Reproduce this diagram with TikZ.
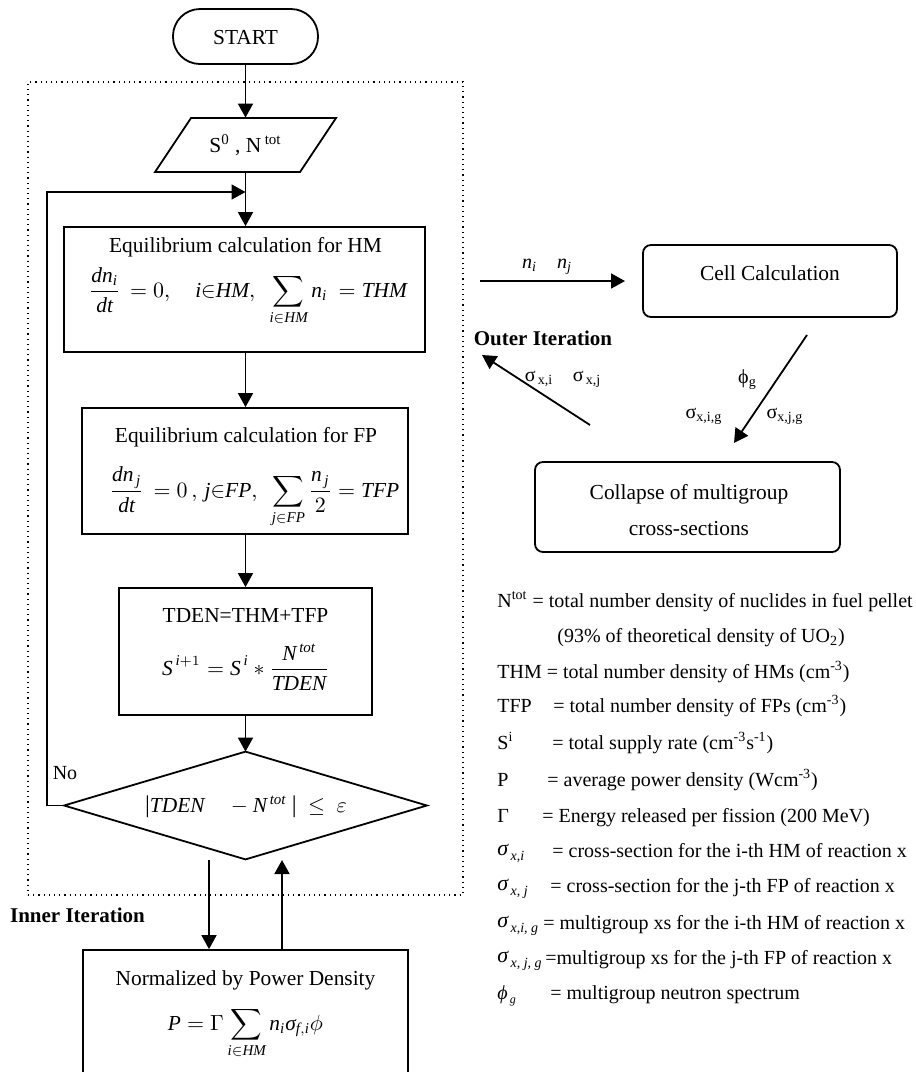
\documentclass[tikz,border=0pt]{standalone}
\usepackage{amsmath}
\usepackage{fontspec}
\setmainfont{Liberation Serif}
\usetikzlibrary{arrows.meta}
\newcommand\vi[1]{\mathit{#1}}
\newcommand\gsig{\text{\itshape σ}}
\newcommand\absbar{\mbox{\fontsize{12}{12}\selectfont |}}
\begin{document}
\begin{tikzpicture}[x=0.5pt,y=-0.5pt,
  box/.style={draw, inner sep=0pt, line width=0.9pt},
  arr/.style={-{Triangle[length=7pt,width=7.5pt]}, line width=0.9pt},
  lbl/.style={font=\fontsize{10.7}{13}\selectfont, inner sep=0pt, anchor=base},
  leg/.style={font=\fontsize{10}{12}\selectfont, inner sep=0pt, anchor=base west},
  sm/.style={font=\fontsize{10}{12}\selectfont, inner sep=0pt, anchor=base},
  bold/.style={font=\fontsize{10.5}{12}\selectfont\bfseries, inner sep=0pt, anchor=base},
]
\useasboundingbox (0,0) rectangle (916,1072);
\clip (0,0) rectangle (916,1072);

% outer dotted frame
\node[draw, dotted, line width=0.6pt, inner sep=0pt, minimum width=217.5pt, minimum height=406.5pt] (frame) at (245.5,488.5) {};

% start
\node[box, rounded corners=13.5pt, minimum width=72.5pt, minimum height=27.5pt] (start) at (245.5,36.5) {};
\node[lbl] (startt) at (245.5,44) {START};

% input parallelogram
\node[inner sep=0pt, minimum width=90pt, minimum height=27pt] (para) at (245.5,145) {};
\draw[line width=0.9pt] (191,118) -- (336,118) -- (300,172) -- (155,172) -- cycle;
\node[lbl] (parat) at (245.5,152) {S\textsuperscript{0} , N\,\textsuperscript{tot}};

% HM box
\node[box, minimum width=180.5pt, minimum height=62.5pt] (hm) at (244.5,289.5) {};
\node[lbl] (hmt) at (245.5,252) {Equilibrium calculation for HM};
\node[lbl] (hmf) at (248,297) {$\displaystyle\frac{\vi{dn}_{\vi{i}}}{\vi{dt}}\,=0,\quad \vi{i}{\in}\vi{HM},\ \ \sum_{\vi{i}\in \vi{HM}}\vi{n}_{\vi{i}}\ =\vi{THM}$};

% FP box
\node[box, minimum width=163pt, minimum height=63pt] (fp) at (245,471) {};
\node[lbl] (fpt) at (246,442) {Equilibrium calculation for FP};
\node[lbl] (fpf) at (254.5,497) {$\displaystyle\frac{\vi{dn}_{\,\vi{j}}}{\vi{dt}}\,=0\,,\,\vi{j}{\in}\vi{FP},\ \ \sum_{\vi{j}\in \vi{FP}}\frac{\vi{n}_{\,\vi{j}}}{2}=\vi{TFP}$};

% TDEN box
\node[box, minimum width=126.5pt, minimum height=63.5pt] (tden) at (245.5,651.5) {};
\node[lbl] (tdent) at (245.5,622) {TDEN=THM+TFP};
\node[lbl] (tdenf) at (245.5,675) {$\displaystyle \vi{S}^{\,\vi{i}+1}=\vi{S}^{\,\vi{i}}*\frac{\vi{N}^{\,\vi{tot}}}{\vi{TDEN}}$};

% diamond
\node[inner sep=0pt, minimum width=181pt, minimum height=53.5pt] (dia) at (245.5,805.5) {};
\draw[line width=0.9pt] (dia.west) -- (dia.north) -- (dia.east) -- (dia.south) -- cycle;
\node[lbl] (diat) at (246,812) {$\absbar\vi{TDEN}\quad - \vi{N}^{\,\vi{tot}}\ \absbar\ \le\ \varepsilon$};

% power density box
\node[box, minimum width=162.5pt, minimum height=75pt] (pd) at (245.5,1025) {};
\node[lbl] (pdt) at (245.5,985) {Normalized by Power Density};
\node[lbl] (pdf) at (245.5,1030) {$\displaystyle \vi{P}=\Gamma\sum_{\vi{i}\in \vi{HM}}\vi{n}_{\vi{i}}\gsig_{\vi{f},\vi{i}}\phi$};

% main flow connectors
\draw[arr] (start.south) -- (para.north);
\coordinate (join) at (245.5,192);
\draw[arr] (para.south) -- (para.south |- hm.north);
\draw[arr] (dia.west) -| (47,192) -- (join);
\draw[arr] (hmt.center |- hm.south) -- (hmt.center |- fp.north);
\draw[arr] (tden.north |- fp.south) -- (tden.north);
\draw[arr] (tden.south) -- (dia.north);
\coordinate (d1) at (209,860);
\coordinate (u1) at (282,860);
\draw[arr] (d1) -- (d1 |- pd.north);
\draw[arr] (u1 |- pd.north) -- (u1);
\node[sm] (no) at (65,779) {No};
\node[bold] (inner) at (77.5,922) {Inner Iteration};

% right side
\node[box, rounded corners=4pt, minimum width=127pt, minimum height=36pt] (cell) at (770,281) {};
\node[lbl] (cellt) at (770,280) {Cell Calculation};
\node[box, rounded corners=4pt, minimum width=152.5pt, minimum height=45pt] (coll) at (687.5,507) {};
\node[lbl] (collt1) at (689,499) {Collapse of multigroup};
\node[lbl] (collt2) at (689,535) {cross-sections};

\coordinate (nA) at (480,281);
\coordinate (nB) at (625,281);
\draw[arr] (nA) -- (nB);
\node[sm] (nlab) at (547,268) {$\vi{n}_{\vi{i}}\quad \vi{n}_{\vi{j}}$};

\coordinate (cA) at (807,335);
\coordinate (cB) at (734,443);
\draw[arr] (cA) -- (cB);
\coordinate (oA) at (590,425);
\coordinate (oB) at (482,355);
\draw[arr] (oA) -- (oB);
\node[bold] (outer) at (543,345) {Outer Iteration};

\node[sm] (s1) at (539,381) {σ\textsubscript{\,x,i}};
\node[sm] (s2) at (587,381) {σ\textsubscript{\,x,j}};
\node[sm] (phig) at (747.5,383) {ϕ\textsubscript{g}};
\node[sm] (s3) at (704,418) {σ\textsubscript{x,i,g}};
\node[sm] (s4) at (785,418) {σ\textsubscript{x,j,g}};

% legend
\node[leg] (l1) at (497,607) {N\textsuperscript{tot} = total number density of nuclides in fuel pellet};
\node[leg] (l2) at (557,642) {(93\% of theoretical density of UO\textsubscript{2})};
\node[leg] (l3) at (497,678) {THM = total number density of HMs (cm\textsuperscript{-3})};
\node[leg] (l4a) at (497,712) {TFP};
\node[leg] (l4b) at (553,712) {= total number density of FPs (cm\textsuperscript{-3})};
\node[leg] (l5a) at (497,749) {S\textsuperscript{i}};
\node[leg] (l5b) at (552,749) {= total supply rate (cm\textsuperscript{-3}s\textsuperscript{-1})};
\node[leg] (l6a) at (497,786) {P};
\node[leg] (l6b) at (547,786) {= average power density (Wcm\textsuperscript{-3})};
\node[leg] (l7a) at (497,822) {Γ};
\node[leg] (l7b) at (542,822) {= Energy released per fission (200 MeV)};
\node[leg] (l8a) at (497,855) {\fontsize{11}{12}\selectfont\itshape σ\raisebox{-0.5ex}{\fontsize{7}{8}\selectfont\,x,i}};
\node[leg] (l8b) at (552,857) {= cross-section for the i-th HM of reaction x};
\node[leg] (l9a) at (497,890) {\fontsize{11}{12}\selectfont\itshape σ\raisebox{-0.5ex}{\fontsize{7}{8}\selectfont\,x, j}};
\node[leg] (l9b) at (550,892) {= cross-section for the j-th FP of reaction x};
\node[leg] (l10a) at (497,927) {\fontsize{11}{12}\selectfont\itshape σ\raisebox{-0.5ex}{\fontsize{7}{8}\selectfont\,x,i, g}};
\node[leg] (l10b) at (543,929) {= multigroup xs for the i-th HM of reaction x};
\node[leg] (l11a) at (497,962) {\fontsize{11}{12}\selectfont\itshape σ\raisebox{-0.5ex}{\fontsize{7}{8}\selectfont\,x, j, g}};
\node[leg] (l11b) at (545,964) {=multigroup xs for the j-th FP of reaction x};
\node[leg] (l12a) at (497,999) {\itshape ϕ\raisebox{-0.5ex}{\fontsize{6}{7}\selectfont\,g}};
\node[leg] (l12b) at (550,999) {= multigroup neutron spectrum};
\end{tikzpicture}
\end{document}
